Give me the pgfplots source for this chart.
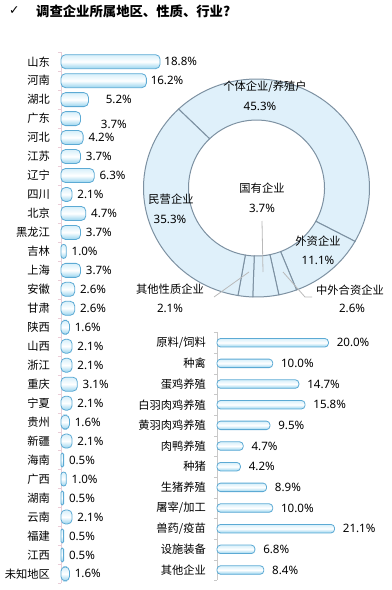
\documentclass[border=0pt]{standalone}
\usepackage{fontspec}
\setmainfont{Noto Sans CJK SC}
\newfontfamily\numfont{Noto Sans}
\newfontfamily\symfont{DejaVu Sans}
\usepackage{pgfplots}
\usepackage{pgfplotstable}
\pgfplotsset{compat=1.18}
\definecolor{barTop}{RGB}{214,239,250}
\definecolor{barBot}{RGB}{150,211,238}
\definecolor{barEdge}{RGB}{92,170,212}
\definecolor{ringFill}{RGB}{223,240,250}
\definecolor{ringEdge}{RGB}{125,145,162}
\definecolor{axisPink}{RGB}{232,205,215}
\definecolor{axisGray}{RGB}{200,200,200}
\definecolor{leader}{RGB}{185,185,185}
\newcommand{\lab}{\fontsize{11.3}{13}\selectfont}
\newcommand{\nlab}{\numfont\fontsize{11.6}{13}\selectfont}
\pgfplotsset{
  capsule/.style={xbar, bar shift=0pt, draw=barEdge, line width=0.8bp,
    top color=barTop, bottom color=barBot, middle color=white},
}
% region shares (%), label offsets dx, dy (bp)
\pgfplotstableread{
i  v     dx  dy
0  18.8  4   0
1  16.2  4   0
2  5.2   17  0
3  3.7   20  -6
4  4.2   5   0
5  3.7   5   0
6  6.3   5   0
7  2.1   5   0
8  4.7   5   0
9  3.7   5   0
10 1.0   5   0
11 3.7   5   0
12 2.6   5   0
13 2.6   5   0
14 1.6   5   0
15 2.1   5   0
16 2.1   5   0
17 3.1   5   0
18 2.1   5   0
19 1.6   5   0
20 2.1   5   0
21 0.5   5   0
22 1.0   5   0
23 0.5   5   0
24 2.1   5   0
25 0.5   5   0
26 0.5   5   0
27 1.6   5   0
}\regions
% industry shares (%)
\pgfplotstableread{
i  v
0  20.0
1  10.0
2  14.7
3  15.8
4  9.5
5  4.7
6  4.2
7  8.9
8  10.0
9  21.1
10 6.8
11 8.4
}\industries
\begin{document}
\begin{tikzpicture}
\useasboundingbox (0,0) rectangle (392bp,-590bp);
\node[anchor=west, inner sep=0] at (9bp,-11bp) {\symfont\fontsize{12.5}{14}\selectfont ✓};
\node[anchor=west, inner sep=0] at (36bp,-11bp) {\bfseries\fontsize{13.4}{15}\selectfont 调查企业所属地区、性质、行业?};

% ---------- regions ----------
\begin{axis}[
  at={(61bp,-52.2bp)}, anchor=north west,
  x=5.27bp, y=18.97bp, y dir=reverse,
  xmin=0, xmax=30, ymin=-0.5, ymax=27.5,
  axis x line=none, axis y line=left,
  axis line style={-, draw=axisPink},
  ytick={0,...,27},
  yticklabels={山东,河南,湖北,广东,河北,江苏,辽宁,四川,北京,黑龙江,吉林,上海,安徽,甘肃,陕西,山西,浙江,重庆,宁夏,贵州,新疆,海南,广西,湖南,云南,福建,江西,未知地区},
  major tick length=0pt,
  minor ytick={-0.5,0.5,...,27.5},
  minor tick length=3bp, tick align=outside,
  minor tick style={draw=axisPink},
  yticklabel style={font=\lab, anchor=east, inner sep=0pt, xshift=-11bp},
  clip=false,
  point meta=explicit symbolic,
  nodes near coords={\pgfplotspointmeta\%},
  every node near coord/.append style={font=\nlab, anchor=west, inner sep=0pt},
]
\pgfplotsinvokeforeach{0,...,27}{%
  \pgfplotstablegetelem{#1}{v}\of\regions \let\val\pgfplotsretval
  \pgfplotstablegetelem{#1}{dx}\of\regions \let\ddx\pgfplotsretval
  \pgfplotstablegetelem{#1}{dy}\of\regions \let\ddy\pgfplotsretval
  \pgfmathsetmacro\rc{min(4.5,\val*5.27/2)}%
  \edef\temp{\noexpand\addplot[capsule, bar width=14bp, rounded corners=\rc bp,
     every node near coord/.append style={xshift=\ddx bp, yshift=\ddy bp}]
     coordinates {(\val,#1) [\val]};}%
  \temp
}
\end{axis}

% ---------- industries ----------
\begin{axis}[
  at={(217bp,-332.4bp)}, anchor=north west,
  x=5.57bp, y=20.66bp, y dir=reverse,
  xmin=0, xmax=28, ymin=-0.5, ymax=11.5,
  axis x line=none, axis y line=left,
  axis line style={-, draw=axisGray},
  ytick={0,...,11},
  yticklabels={原料/饲料,种禽,蛋鸡养殖,白羽肉鸡养殖,黄羽肉鸡养殖,肉鸭养殖,种猪,生猪养殖,屠宰/加工,兽药/疫苗,设施装备,其他企业},
  major tick length=0pt,
  minor ytick={-0.5,0.5,...,11.5},
  minor tick length=3bp, tick align=outside,
  minor tick style={draw=axisGray},
  yticklabel style={font=\lab, anchor=east, inner sep=0pt, xshift=-11bp},
  clip=false,
  point meta=explicit symbolic,
  nodes near coords={\pgfplotspointmeta\%},
  every node near coord/.append style={font=\nlab, anchor=west, inner sep=0pt, xshift=8bp},
]
\pgfplotsinvokeforeach{0,...,11}{%
  \pgfplotstablegetelem{#1}{v}\of\industries \let\val\pgfplotsretval
  \edef\temp{\noexpand\addplot[capsule, bar width=8.5bp, rounded corners=3.5bp]
     coordinates {(\val,#1) [\val]};}%
  \temp
}
\end{axis}

% ---------- ownership donut ----------
\begin{axis}[
  at={(256.5bp,-188bp)}, anchor=center,
  x=113bp, y=109bp, xmin=-1, xmax=1, ymin=-1, ymax=1,
  hide axis, clip=false,
]
\def\startang{133.6}
\pgfplotsforeachungrouped \v in {45.3,11.1,2.6,3.7,2.1,35.3}{%
  \pgfmathsetmacro\endang{\startang-\v*360/100.1}%
  \edef\temp{\noexpand\filldraw[fill=ringFill, draw=ringEdge, line width=1bp]
    (axis cs:{cos(\startang)},{sin(\startang)})
    arc[start angle=\startang, end angle=\endang, x radius=113bp, y radius=109bp]
    -- (axis cs:{0.6018*cos(\endang)},{0.6239*sin(\endang)})
    arc[start angle=\endang, end angle=\startang, radius=68bp] -- cycle;}%
  \temp
  \let\startang\endang
}
\end{axis}

% donut labels
\draw[leader, line width=0.8bp] (262bp,-221bp) -- (263bp,-272bp);
\draw[leader, line width=0.8bp] (249bp,-272bp) -- (214bp,-297bp);
\draw[leader, line width=0.8bp] (283bp,-272bp) -- (305bp,-297bp) -- (312bp,-297bp);
\node[font=\lab] at (265bp,-87bp) {个体企业/养殖户};
\node[font=\nlab] at (260bp,-106bp) {45.3\%};
\node[font=\lab] at (171bp,-199bp) {民营企业};
\node[font=\nlab] at (170bp,-219bp) {35.3\%};
\node[font=\lab] at (262bp,-188bp) {国有企业};
\node[font=\nlab] at (262bp,-208bp) {3.7\%};
\node[font=\lab] at (318bp,-241bp) {外资企业};
\node[font=\nlab] at (318bp,-260bp) {11.1\%};
\node[font=\lab] at (170bp,-289bp) {其他性质企业};
\node[font=\nlab] at (170bp,-308bp) {2.1\%};
\node[font=\lab] at (350bp,-290bp) {中外合资企业};
\node[font=\nlab] at (352bp,-308bp) {2.6\%};
\end{tikzpicture}
\end{document}
